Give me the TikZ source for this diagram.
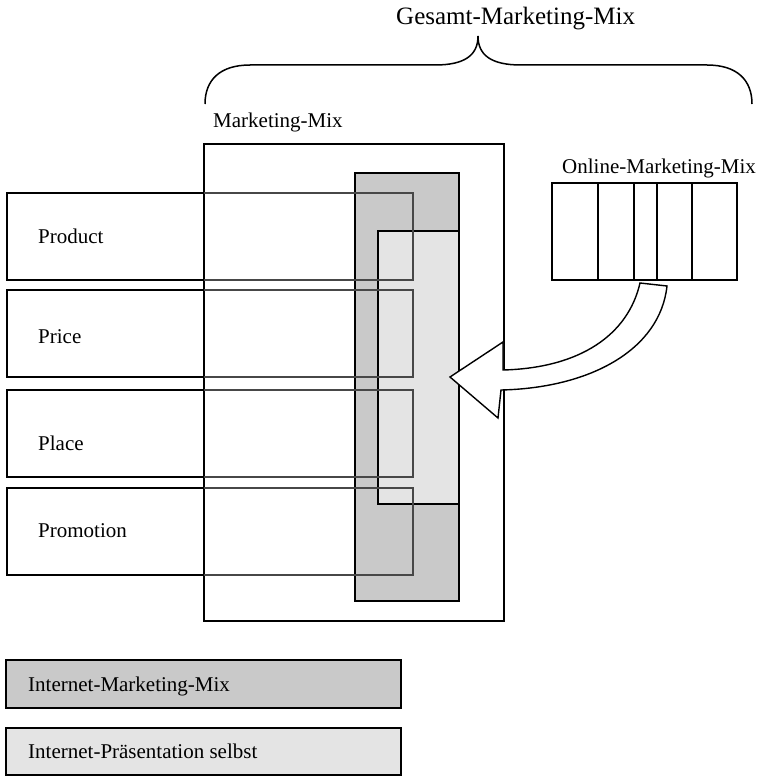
\documentclass[tikz,border=0pt]{standalone}
\usepackage{fontspec}
\setmainfont{Liberation Serif}
\definecolor{mixdark}{gray}{0.79}
\definecolor{mixlight}{gray}{0.895}
\begin{document}
\begin{tikzpicture}[x=1pt,y=-1pt,
  lbl/.style={font=\fontsize{21}{25}\selectfont, inner sep=0pt, anchor=base west},
  biglbl/.style={font=\fontsize{25}{30}\selectfont, inner sep=0pt, anchor=base west},
  box/.style={draw, line width=1.6pt, inner sep=0pt, outer sep=0pt, anchor=north west},
  rowbox/.style={draw=black!72, line width=1.3pt, inner sep=0pt, outer sep=0pt, anchor=north west,
                 minimum width=406pt, minimum height=87pt},
  edge/.style={line width=1.6pt}]
\useasboundingbox (0,0) rectangle (759,776);

% overall brace
\draw[line width=1.5pt] (205,104) .. controls (205,80) and (220,65) .. (250,65) -- (435,65)
  .. controls (465,65) and (478,55) .. (478,36)
  .. controls (478,55) and (491,65) .. (521,65) -- (707,65)
  .. controls (737,65) and (752,80) .. (752,104);
\node[biglbl] (gesamt) at (396,25) {Gesamt-Marketing-Mix};

% classic marketing mix frame
\node[lbl] (mmlabel) at (213,127) {Marketing-Mix};
\node[box, minimum width=300pt, minimum height=477pt] (mm) at (204,144) {};

% internet mix columns
\node[box, fill=mixdark, minimum width=104pt, minimum height=428pt] (imm) at (355,173) {};
\node[box, fill=mixlight, minimum width=81pt, minimum height=273pt] (ipr) at (378,231) {};

% the four Ps
\node[rowbox] (product)   at (7,193) {};
\node[rowbox] (price)     at (7,290) {};
\node[rowbox] (place)     at (7,390) {};
\node[rowbox] (promotion) at (7,488) {};
\foreach \r in {product,price,place,promotion}
  \draw[edge] (mm.west |- \r.north) -- (\r.north west) -- (\r.south west) -- (mm.west |- \r.south);
\node[lbl] (productlbl)   at (38,243) {Product};
\node[lbl] (pricelbl)     at (38,343) {Price};
\node[lbl] (placelbl)     at (38,450) {Place};
\node[lbl] (promotionlbl) at (38,537) {Promotion};

% online marketing mix
\node[lbl] (onllabel) at (562,173) {Online-Marketing-Mix};
\node[box, minimum width=185pt, minimum height=97pt] (onl) at (552,183) {};
\foreach \x in {598,634,657,692}
  \draw[edge] (\x,0 |- onl.north) -- (\x,0 |- onl.south);

% curved block arrow into the mix
\draw[line width=1.4pt, fill=white, line join=miter]
  (640,283) .. controls (628,335) and (580,368) .. (503,370)
  -- (503,342) -- (450,377) -- (498,418) -- (501,390)
  .. controls (590,388) and (660,350) .. (667,286) -- cycle;

% legend
\node[box, fill=mixdark, minimum width=395pt, minimum height=48pt] (leg1) at (6,660) {};
\node[lbl] (leg1lbl) at (28,691) {Internet-Marketing-Mix};
\node[box, fill=mixlight, minimum width=395pt, minimum height=47pt] (leg2) at (6,728) {};
\node[lbl] (leg2lbl) at (28,758) {Internet-Präsentation selbst};
\end{tikzpicture}
\end{document}
